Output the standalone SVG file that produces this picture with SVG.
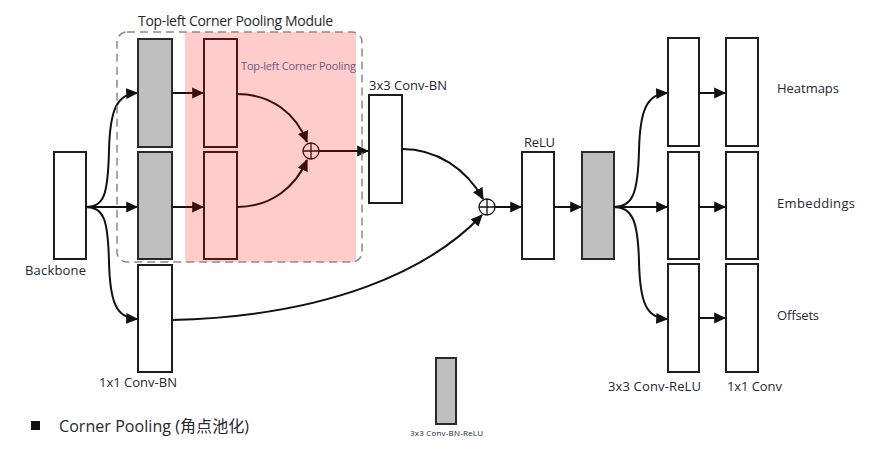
<svg xmlns="http://www.w3.org/2000/svg" width="885" height="450" viewBox="0 0 885 450">
  <style>
    .lbl { font-family: "Open Sans", "Noto Sans", "Noto Sans CJK SC", sans-serif; fill: #232830; }
    .box { fill: #ffffff; stroke: #1e1e1e; stroke-width: 2; }
    .gray { fill: #bfbfbf; stroke: #2a2a2a; stroke-width: 2; }
    .wire { fill: none; stroke: #111111; stroke-width: 2; }
    .sum { fill: none; stroke: #111111; stroke-width: 1.3; }
  </style>
  <defs>
    <marker id="arrow" viewBox="0 0 10 10" refX="9" refY="5" markerWidth="6" markerHeight="6" markerUnits="strokeWidth" orient="auto">
      <path d="M0,0.5 L10,5 L0,9.5 z" fill="#111111"/>
    </marker>
  </defs>

  <rect width="885" height="450" fill="#ffffff"/>

  <!-- pooling module frame title -->
  <text class="lbl" x="138" y="26" font-size="14" textLength="195">Top-left Corner Pooling Module</text>

  <!-- nodes -->
  <g id="backbone">
    <rect class="box" x="54" y="152" width="32" height="107"/>
    <text class="lbl" x="25" y="275" font-size="13" textLength="61">Backbone</text>
  </g>
  <g id="conv-top">
    <rect class="gray" x="138" y="39" width="34" height="108"/>
  </g>
  <g id="conv-left">
    <rect class="gray" x="138" y="152" width="34" height="107"/>
  </g>
  <g id="pool-top">
    <rect class="box" x="204" y="39" width="33" height="108"/>
  </g>
  <g id="pool-left">
    <rect class="box" x="204" y="152" width="33" height="107"/>
  </g>
  <g id="sum-pool">
    <circle class="sum" cx="311" cy="151" r="8"/>
    <path class="sum" d="M303,151 H319 M311,143 V159"/>
  </g>
  <g id="conv-bn-3x3">
    <rect class="box" x="369" y="95" width="33" height="108"/>
    <text class="lbl" x="369" y="90" font-size="13" textLength="78">3x3 Conv-BN</text>
  </g>
  <g id="conv-bn-1x1">
    <rect class="box" x="138" y="265" width="34" height="107"/>
    <text class="lbl" x="99" y="387" font-size="13" textLength="78">1x1 Conv-BN</text>
  </g>
  <g id="sum-main">
    <circle class="sum" cx="487" cy="207" r="8"/>
    <path class="sum" d="M479,207 H495 M487,199 V215"/>
  </g>
  <g id="relu">
    <rect class="box" x="522" y="152" width="32" height="107"/>
    <text class="lbl" x="524" y="147" font-size="13" textLength="31">ReLU</text>
  </g>
  <g id="conv-bn-relu">
    <rect class="gray" x="582" y="152" width="32" height="107"/>
  </g>
  <g id="head-heat-a"><rect class="box" x="668" y="38" width="31" height="108"/></g>
  <g id="head-emb-a"><rect class="box" x="668" y="152" width="31" height="107"/></g>
  <g id="head-off-a"><rect class="box" x="668" y="264" width="31" height="108"/></g>
  <g id="head-heat-b">
    <rect class="box" x="726" y="38" width="32" height="108"/>
    <text class="lbl" x="777" y="93" font-size="13" textLength="62">Heatmaps</text>
  </g>
  <g id="head-emb-b">
    <rect class="box" x="726" y="152" width="32" height="107"/>
    <text class="lbl" x="777" y="208" font-size="13" textLength="78">Embeddings</text>
  </g>
  <g id="head-off-b">
    <rect class="box" x="726" y="264" width="32" height="108"/>
    <text class="lbl" x="777" y="320" font-size="13" textLength="42">Offsets</text>
  </g>
  <text class="lbl" x="608" y="391" font-size="13" textLength="93">3x3 Conv-ReLU</text>
  <text class="lbl" x="727" y="391" font-size="13" textLength="55">1x1 Conv</text>

  <!-- connectors -->
  <g id="connectors">
    <path class="wire" marker-end="url(#arrow)" d="M86,207 C104,207 108,195 109,150 C110,112 116,94 137,93"/>
    <path class="wire" marker-end="url(#arrow)" d="M86,207 H137"/>
    <path class="wire" marker-end="url(#arrow)" d="M86,207 C104,207 108,220 109,262 C110,302 116,318 137,319"/>
    <path class="wire" marker-end="url(#arrow)" d="M172,93 H203"/>
    <path class="wire" marker-end="url(#arrow)" d="M172,207 H203"/>
    <path class="wire" marker-end="url(#arrow)" d="M237,94 C272,94 296,114 307,142"/>
    <path class="wire" marker-end="url(#arrow)" d="M237,207 C272,207 296,186 307,160"/>
    <path class="wire" marker-end="url(#arrow)" d="M319,151 H368"/>
    <path class="wire" marker-end="url(#arrow)" d="M402,149 C436,149 466,168 483,199"/>
    <path class="wire" marker-end="url(#arrow)" d="M172,320 C330,316 430,270 482,215"/>
    <path class="wire" marker-end="url(#arrow)" d="M495,207 H521"/>
    <path class="wire" marker-end="url(#arrow)" d="M554,207 H581"/>
    <path class="wire" marker-end="url(#arrow)" d="M614,207 C632,207 638,195 639,150 C640,112 646,94 667,93"/>
    <path class="wire" marker-end="url(#arrow)" d="M614,207 H667"/>
    <path class="wire" marker-end="url(#arrow)" d="M614,207 C632,207 638,220 639,262 C640,302 646,318 667,319"/>
    <path class="wire" marker-end="url(#arrow)" d="M699,93 H725"/>
    <path class="wire" marker-end="url(#arrow)" d="M699,207 H725"/>
    <path class="wire" marker-end="url(#arrow)" d="M699,318 H725"/>
  </g>

  <!-- corner pooling highlight (translucent red over the pooling branch) -->
  <rect x="185" y="32" width="171" height="230" fill="#ff0000" fill-opacity="0.2"/>
  <text class="lbl" x="241" y="70" font-size="11" textLength="115" style="fill:#6e5a80">Top-left Corner Pooling</text>

  <!-- dashed module frame -->
  <rect x="117" y="32" width="245" height="230" rx="10" ry="10" fill="none" stroke="#8a8a8a" stroke-width="1.5" stroke-dasharray="8,5"/>

  <!-- legend -->
  <rect x="31" y="421" width="9" height="9" fill="#111111"/>
  <text class="lbl" x="59" y="432" font-size="16" textLength="190">Corner Pooling (角点池化)</text>
  <g id="legend-conv-bn-relu">
    <rect class="gray" x="436" y="358" width="20" height="66" stroke-width="1.5"/>
    <text class="lbl" x="410" y="436" font-size="8" textLength="73">3x3 Conv-BN-ReLU</text>
  </g>
</svg>
